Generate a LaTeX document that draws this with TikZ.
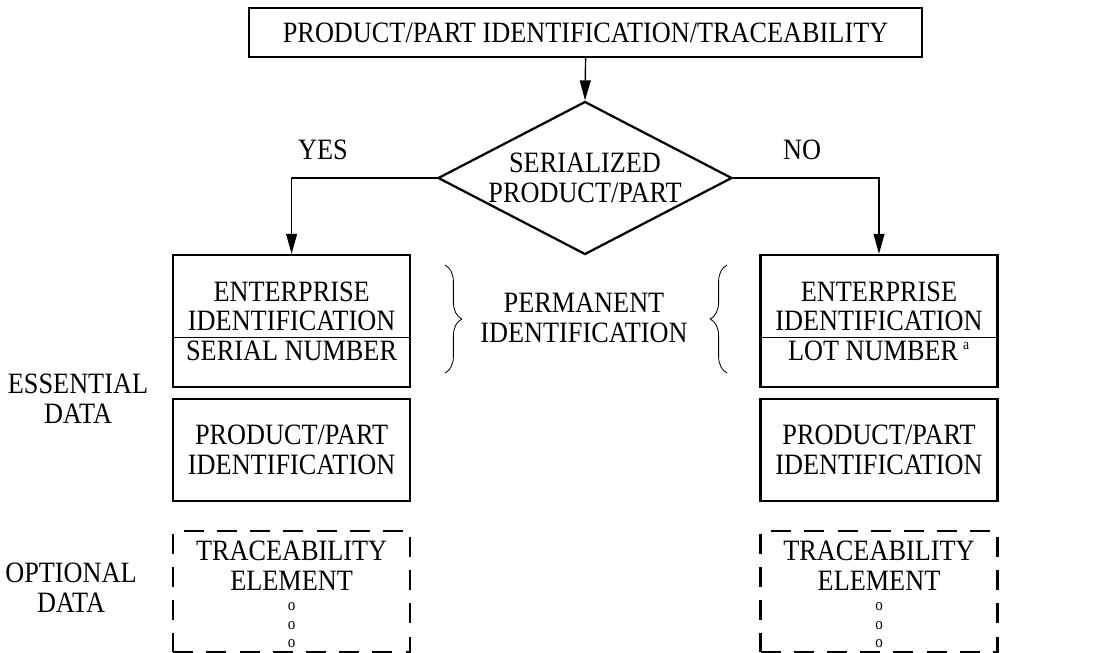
\documentclass[tikz,border=0pt]{standalone}
\usepackage{fontspec}
\setmainfont{Liberation Serif}[FakeStretch=0.89]
\usetikzlibrary{calc, positioning}
\usetikzlibrary{arrows.meta}
\usetikzlibrary{decorations.pathreplacing}
\usepgflibrary{shapes.geometric}
\def\bw{5.925cm}
\def\dividershift{0.4cm}
\tikzset{
    border/.style = {
        draw, rectangle, minimum width=\bw, line width=1.6pt, align=center, inner sep=0pt
    },
    IdBox/.pic = {
        \node [border, minimum height=3.3cm](-edge){ENTERPRISE\\IDENTIFICATION\\#1};
        \draw[line width=0.6pt] ([yshift=-\dividershift] -edge.west) -- ([yshift=-\dividershift] -edge.east);
    },
    PartBox/.pic = {
        \node [border, minimum height=2.55cm](-edge){PRODUCT/PART\\IDENTIFICATION};
    },
    OptionalBox/.pic = {
        \node [border, dash pattern=on 0.5cm off 0.33cm, minimum height=3.025cm](-edge){};
        \node [anchor=north, align=center, inner sep=0pt](-text) at ([yshift=-0.275cm] -edge.north){TRACEABILITY\\ELEMENT};
        \node [anchor=north, align=center, inner sep=0pt, font=\fontsize{12}{13}\selectfont](-dots) at ([yshift=-0.3cm] -text.south){o\\o\\o};
    },
}

\begin{document}
\begin{tikzpicture}[every node/.style={font=\fontsize{21}{21}\selectfont}]
        \useasboundingbox (0,0) rectangle (27.9,-16.3);
        % Place the blocks
        \node [border, minimum width=16.83cm, minimum height=1.225cm](title) at (14.64,-0.8125){PRODUCT/PART IDENTIFICATION/TRACEABILITY};
        \node [draw, diamond, aspect=1.92, line width=1.6pt, minimum width=7.35cm, minimum height=3.825cm, inner sep=0pt, align=center](serial) at (14.625,-4.45){SERIALIZED\\PRODUCT/PART};
        \pic (ent1) at (7.29,-8.025) {IdBox={SERIAL NUMBER}};
        \pic (ent2) at (21.975,-8.025) {IdBox={LOT NUMBER\,\textsuperscript{\fontsize{11}{11}\selectfont a}}};
        \pic (prd1) at (7.29,-11.25) {PartBox};
        \pic (prd2) at (21.975,-11.25) {PartBox};
        \pic (trc1) at (7.29,-14.7875) {OptionalBox};
        \pic (trc2) at (21.975,-14.7875) {OptionalBox};

        % Labels
        \node (yes) at (8.075,-3.75) {YES};
        \node (no) at (20.05,-3.75) {NO};
        \node [align=center](perm) at (14.6,-7.95) {PERMANENT\\IDENTIFICATION};
        \node [align=center](essential) at (1.95,-9.975) {ESSENTIAL\\DATA};
        \node [align=center](optional) at (1.775,-14.7) {OPTIONAL\\DATA};

        % Draw connections
        \begin{scope}[line width=1pt, >={Triangle[width=0.27cm,length=0.5cm]}]
            \draw[->] (title.south) -- (serial.north);
            \draw[->] (serial.west) -| (ent1-edge.north);
            \draw[->] (serial.east) -| (ent2-edge.north);
        \end{scope}

        % Braces
        \begin{scope}[line width=0.6pt, decoration={brace, amplitude=0.42cm}]
            \draw[decorate] (11.125,-6.625) -- (11.125,-9.325);
            \draw[decorate] (18.175,-9.325) -- (18.175,-6.625);
        \end{scope}
    \end{tikzpicture}
\end{document}
